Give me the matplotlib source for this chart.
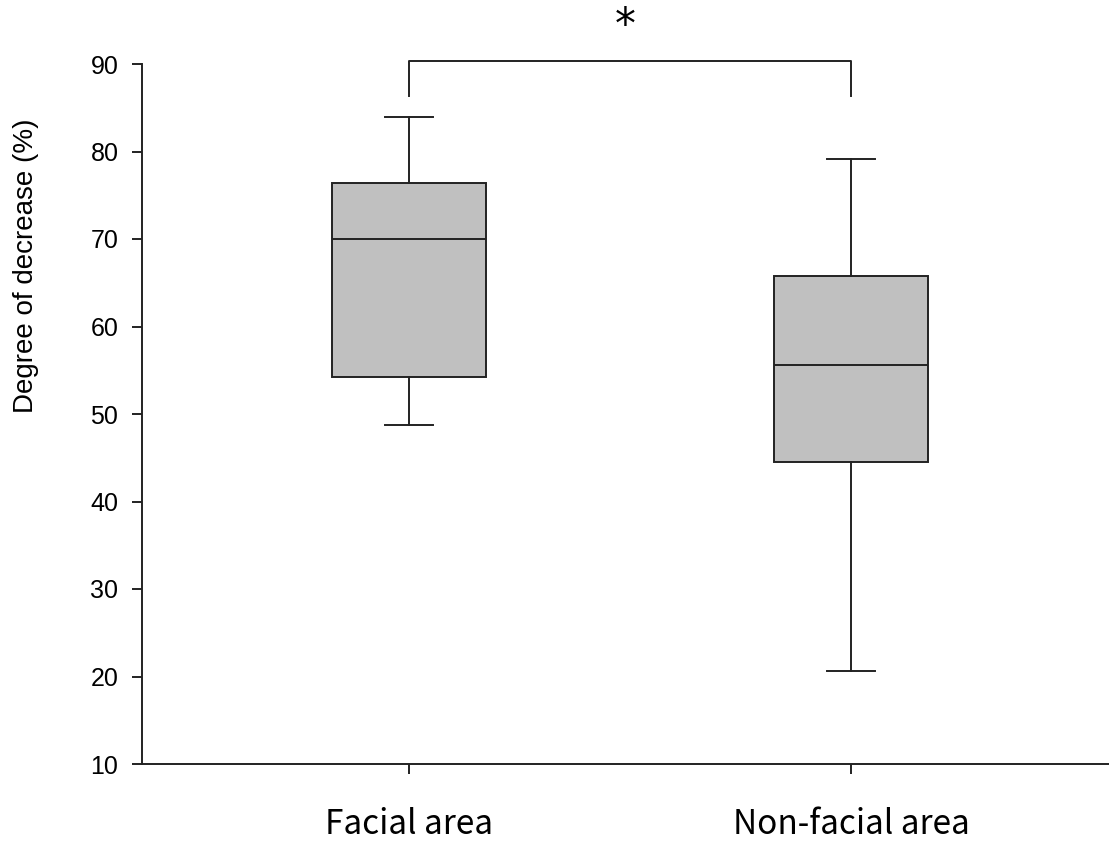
import matplotlib
matplotlib.use("Agg")
import matplotlib.pyplot as plt
from matplotlib import font_manager

categories = ["Facial area", "Non-facial area"]
whisker_low = [48.7, 20.6]
q1 = [54.2, 44.5]
median = [70.0, 55.6]
q3 = [76.4, 65.8]
whisker_high = [84.0, 79.2]
yticks = [10, 20, 30, 40, 50, 60, 70, 80, 90]

names = {f.name for f in font_manager.fontManager.ttflist}
narrow = "Liberation Sans Narrow" if "Liberation Sans Narrow" in names else "Liberation Sans"

fig = plt.figure(figsize=(11.09, 8.43), dpi=100)
ax = fig.add_axes([142/1109, 1-764/843, 1-142/1109, (764-64)/843])

stats = []
for i, c in enumerate(categories):
    stats.append(dict(label=c, whislo=whisker_low[i], q1=q1[i], med=median[i],
                      q3=q3[i], whishi=whisker_high[i], fliers=[]))
lw = 1.4
ax.bxp(stats, positions=[1, 2], widths=0.35, patch_artist=True, showfliers=False,
       boxprops=dict(facecolor="#c0c0c0", edgecolor="#222222", linewidth=lw),
       medianprops=dict(color="#222222", linewidth=lw),
       whiskerprops=dict(color="#222222", linewidth=lw),
       capprops=dict(color="#222222", linewidth=lw),
       capwidths=0.11)

ax.set_xlim(0.396, 2.584)
ax.set_ylim(10, 90)
ax.set_yticks(yticks)
ax.set_yticklabels([str(t) for t in yticks], fontfamily="Liberation Sans", fontsize=18)
ax.set_xticks([1, 2])
ax.set_xticklabels(categories, fontfamily=["Noto Sans CJK KR", "DejaVu Sans"], fontsize=24)
ax.tick_params(axis="y", direction="out", length=7, width=lw, color="#222222", pad=10)
ax.tick_params(axis="x", direction="out", length=7, width=lw, color="#222222", pad=24)
for s in ["top", "right"]:
    ax.spines[s].set_visible(False)
for s in ["left", "bottom"]:
    ax.spines[s].set_linewidth(lw)
    ax.spines[s].set_color("#222222")
ax.set_ylabel("Degree of decrease (%)", fontfamily=narrow, fontsize=20)
ax.yaxis.set_label_coords(-(142-26)/967, 0.712)
ax.yaxis.label.set_verticalalignment("center")
ax.yaxis.label.set_horizontalalignment("center")

# significance bracket
ax.plot([1, 1, 2, 2], [86.4, 90.3, 90.3, 86.4], color="#222222", lw=lw, clip_on=False)
ax.text(1.49, 94.4, "*", ha="center", va="center", fontsize=30,
        fontfamily="DejaVu Sans")

fig.savefig("out.png", dpi=100)
